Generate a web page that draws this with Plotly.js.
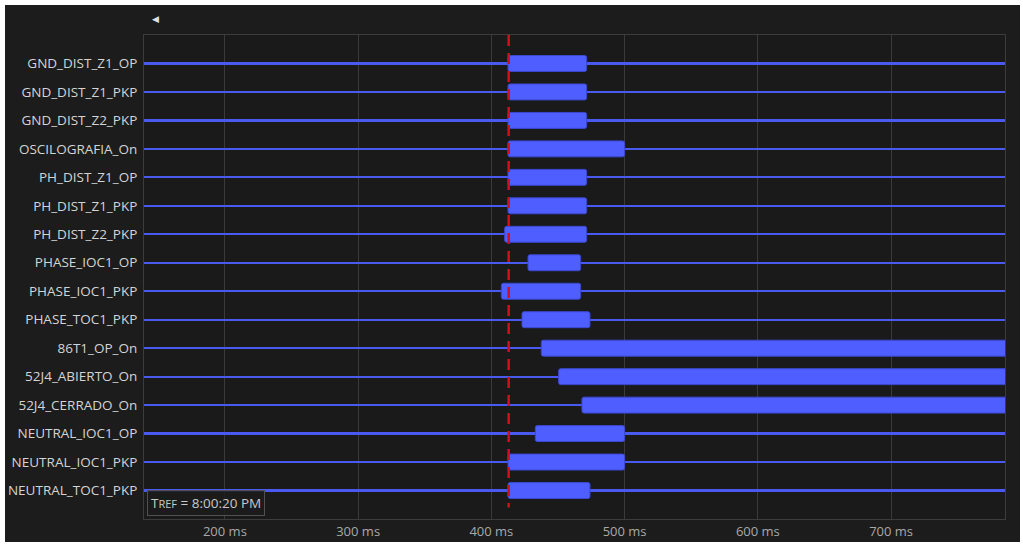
<!DOCTYPE html>
<html>
<head>
<meta charset="utf-8">
<script src="https://cdn.plot.ly/plotly-3.0.1.min.js"></script>
<style>
  html, body { margin: 0; padding: 0; background: #ffffff; width: 1023px; height: 545px; overflow: hidden; }
  #chart { position: absolute; left: 5px; top: 5px; width: 1015px; height: 537px; }
</style>
</head>
<body>
<div id="chart"></div>
<script>
// Signal names (top to bottom)
const signals = [
  "GND_DIST_Z1_OP", "GND_DIST_Z1_PKP", "GND_DIST_Z2_PKP", "OSCILOGRAFIA_On",
  "PH_DIST_Z1_OP", "PH_DIST_Z1_PKP", "PH_DIST_Z2_PKP", "PHASE_IOC1_OP",
  "PHASE_IOC1_PKP", "PHASE_TOC1_PKP", "86T1_OP_On", "52J4_ABIERTO_On",
  "52J4_CERRADO_On", "NEUTRAL_IOC1_OP", "NEUTRAL_IOC1_PKP", "NEUTRAL_TOC1_PKP"
];
// Active interval start / end (ms)
const onStart = [412.5, 412.5, 412.5, 412.5, 412.5, 412.5, 410, 427.5, 407.5, 423, 437.5, 450.5, 468, 433, 412.5, 412.5];
const onEnd   = [471.5, 471.5, 471.5, 500, 471.5, 471.5, 471.5, 467, 467, 474, 800, 800, 800, 500, 500, 474];
// Reference time cursor (ms)
const refTime = 413;
// Visible time window (ms)
const timeWindow = [139.3, 785.5];
const tickVals = [200, 300, 400, 500, 600, 700];
const tickLabels = tickVals.map(v => v + " ms");

const idx = signals.map((_, i) => i);

const bars = {
  type: "bar",
  orientation: "h",
  y: idx,
  base: onStart,
  x: onEnd.map((e, i) => e - onStart[i]),
  width: 0.56,
  marker: { color: "#4f5eff", line: { color: "#3b49d0", width: 1 }, cornerradius: 2 },
  hoverinfo: "skip"
};

const layout = {
  width: 1015, height: 537,
  margin: { l: 139, r: 15, t: 30, b: 23 },
  paper_bgcolor: "#1c1c1c",
  plot_bgcolor: "#1a1a1a",
  showlegend: false,
  font: { family: "Open Sans, Noto Sans, sans-serif", color: "#d4d4d4", size: 12 },
  xaxis: {
    range: timeWindow,
    tickvals: tickVals, ticktext: tickLabels,
    tickfont: { size: 13, color: "#a9a9a9" },
    showgrid: true, gridcolor: "#3a3a3a", gridwidth: 1,
    zeroline: false,
    showline: true, mirror: true, linecolor: "#3c3c3c", linewidth: 1,
    ticks: "", ticklen: 0
  },
  yaxis: {
    range: [16, -1],
    tickvals: idx, ticktext: signals,
    tickfont: { size: 13.5, color: "#d4d4d4" },
    showgrid: true, gridcolor: "#4a5af0", gridwidth: 2.2,
    zeroline: false,
    showline: true, mirror: true, linecolor: "#3c3c3c", linewidth: 1,
    ticks: "", ticklen: 0, ticklabelstandoff: 3
  },
  shapes: [{
    type: "line", xref: "x", yref: "y",
    x0: refTime, x1: refTime, y0: -1, y1: 15.6,
    line: { color: "#d0101e", width: 2.5, dash: "11px,7px" }
  }],
  annotations: [
    {
      xref: "paper", yref: "paper", x: 0.013, y: 1, yshift: 17,
      xanchor: "center", yanchor: "middle", showarrow: false,
      text: "◀", font: { size: 9, color: "#e0e0e0" }
    },
    {
      xref: "paper", yref: "paper", x: 0.003, y: 0.006,
      xanchor: "left", yanchor: "bottom", showarrow: false,
      text: "T<span style='font-size:11px'>REF</span> = 8:00:20 PM",
      font: { size: 13.5, color: "#c8c8c8" },
      bgcolor: "rgba(28,28,28,0.85)", bordercolor: "#505050", borderwidth: 1, borderpad: 3
    }
  ]
};

Plotly.newPlot("chart", [bars], layout, { displayModeBar: false, staticPlot: true });
</script>
</body>
</html>
